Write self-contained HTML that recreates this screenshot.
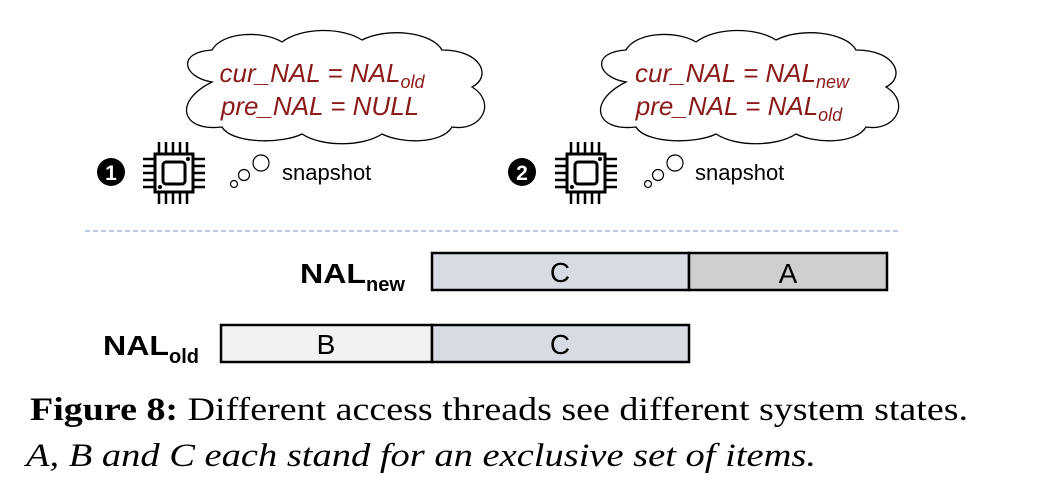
<!DOCTYPE html>
<html><head><meta charset="utf-8"><style>
body{margin:0;background:#fff;width:1044px;height:486px;overflow:hidden}
svg{display:block}
.red{font-family:"Liberation Sans",sans-serif;font-style:italic;fill:#8b1a1a;font-size:26px}
.lbl{font-family:"Liberation Sans",sans-serif;font-size:28px;fill:#000}
.snap{font-family:"Liberation Sans",sans-serif;font-size:22px;fill:#000}
.cap{font-family:"Liberation Serif",serif;font-size:33px;fill:#000}
</style></head><body>
<svg width="1044" height="486" viewBox="0 0 1044 486">
<defs>
<g id="chip">
<rect x="12" y="12" width="38" height="38" fill="none" stroke="#000" stroke-width="3"/>
<rect x="20" y="20" width="22" height="22" rx="3" fill="none" stroke="#000" stroke-width="3"/>
<g stroke="#000" stroke-width="2.5">
<path d="M16 0v12M23 0v12M30 0v12M37 0v12M44 0v12M16 50v12M23 50v12M30 50v12M37 50v12M44 50v12M0 17h12M0 24h12M0 31h12M0 38h12M0 45h12M50 17h12M50 24h12M50 31h12M50 38h12M50 45h12"/>
</g>
<circle cx="45" cy="17" r="2"/><circle cx="17" cy="45" r="2"/>
</g>
<path id="cloud" d="M40 50 C10 45 5 20 40 18 C50 0 90 -2 110 10 C130 -5 170 -5 190 8 C215 -5 260 0 270 18 C310 18 320 45 300 55 C325 70 310 100 280 95 C270 112 230 112 210 102 C190 115 150 115 130 102 C110 112 60 112 50 95 C10 100 0 70 40 50 Z" fill="#fff" stroke="#000" stroke-width="1.3"/>
</defs>

<g>
<use href="#cloud" transform="translate(172,32)"/>
<text class="red" x="322" y="82" text-anchor="middle">cur_NAL = NAL<tspan font-size="18" dy="6">old</tspan></text>
<text class="red" x="320" y="115" text-anchor="middle">pre_NAL = NULL</text>
<circle cx="261" cy="163" r="8" fill="#fff" stroke="#000" stroke-width="1.2"/>
<circle cx="244" cy="175" r="5.5" fill="#fff" stroke="#000" stroke-width="1.2"/>
<circle cx="234" cy="184" r="3.5" fill="#fff" stroke="#000" stroke-width="1.2"/>
<circle cx="111" cy="172" r="14" fill="#000"/>
<text x="111" y="180" text-anchor="middle" font-family="Liberation Sans" font-weight="bold" font-size="21" fill="#fff">1</text>
<use href="#chip" transform="translate(143,142)"/>
<text class="snap" x="282" y="180">snapshot</text>
</g>

<g>
<use href="#cloud" transform="translate(586,32)"/>
<text class="red" x="742" y="82" text-anchor="middle">cur_NAL = NAL<tspan font-size="18" dy="6">new</tspan></text>
<text class="red" x="739" y="115" text-anchor="middle">pre_NAL = NAL<tspan font-size="18" dy="6">old</tspan></text>
<circle cx="675" cy="163" r="8" fill="#fff" stroke="#000" stroke-width="1.2"/>
<circle cx="658" cy="175" r="5.5" fill="#fff" stroke="#000" stroke-width="1.2"/>
<circle cx="648" cy="184" r="3.5" fill="#fff" stroke="#000" stroke-width="1.2"/>
<circle cx="522" cy="172" r="14" fill="#000"/>
<text x="522" y="180" text-anchor="middle" font-family="Liberation Sans" font-weight="bold" font-size="21" fill="#fff">2</text>
<use href="#chip" transform="translate(555,142)"/>
<text class="snap" x="695" y="180">snapshot</text>
</g>

<line x1="85" y1="231" x2="900" y2="231" stroke="#aab8dc" stroke-width="1.5" stroke-dasharray="5,3"/>

<text x="300" y="283" font-family="Liberation Sans" font-weight="bold" font-size="28"><tspan textLength="66" lengthAdjust="spacingAndGlyphs">NAL</tspan><tspan font-size="20" dy="8">new</tspan></text>
<g>
<rect x="432" y="253" width="257" height="37" fill="#d7dce4" stroke="#000" stroke-width="2.5"/>
<rect x="689" y="253" width="198" height="37" fill="#d0cece" stroke="#000" stroke-width="2.5"/>
<text class="lbl" x="560" y="282" text-anchor="middle">C</text>
<text class="lbl" x="788" y="283" text-anchor="middle">A</text>
</g>

<text x="103" y="355" font-family="Liberation Sans" font-weight="bold" font-size="28"><tspan textLength="66" lengthAdjust="spacingAndGlyphs">NAL</tspan><tspan font-size="20" dy="8">old</tspan></text>
<g>
<rect x="221" y="325" width="211" height="37" fill="#f2f2f2" stroke="#000" stroke-width="2.5"/>
<rect x="432" y="325" width="257" height="37" fill="#d7dce4" stroke="#000" stroke-width="2.5"/>
<text class="lbl" x="326" y="354" text-anchor="middle">B</text>
<text class="lbl" x="560" y="354" text-anchor="middle">C</text>
</g>

<text class="cap" x="30" y="420" textLength="938" lengthAdjust="spacingAndGlyphs"><tspan font-weight="bold">Figure 8:</tspan> Different access threads see different system states.</text>
<text class="cap" x="26" y="466" font-style="italic" textLength="790" lengthAdjust="spacingAndGlyphs">A, B and C each stand for an exclusive set of items.</text>
</svg>
</body></html>
